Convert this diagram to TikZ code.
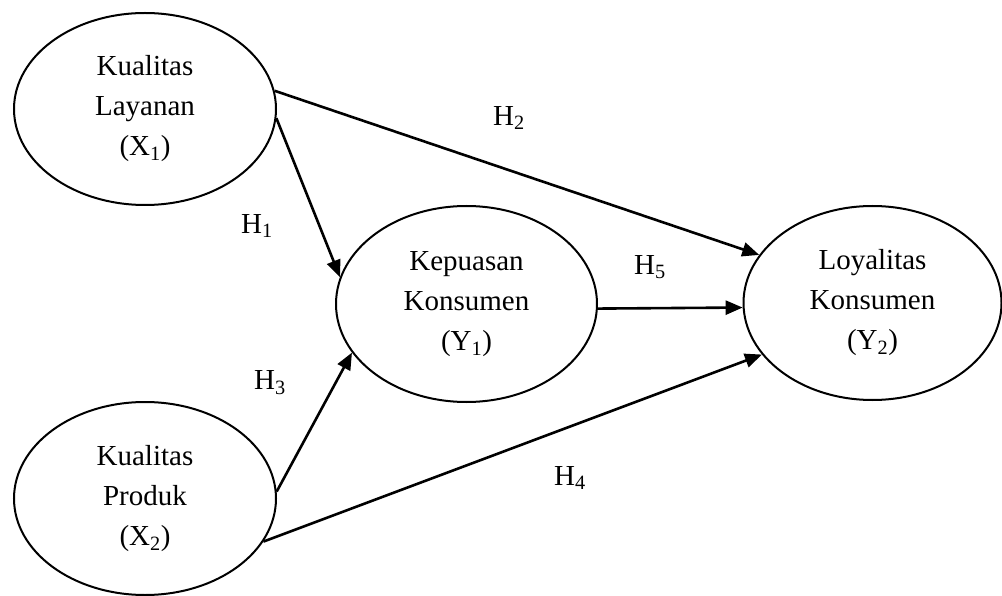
\documentclass[tikz,border=0pt]{standalone}
\usepackage{fontspec}
\setmainfont{Liberation Serif}
\usetikzlibrary{shapes.geometric,arrows.meta}
\tikzset{
  var/.style={ellipse, draw, line width=2pt, inner sep=0pt, align=center,
    font=\fontsize{29}{40}\selectfont},
  link/.style={line width=2.6pt, -{Triangle[length=17pt,width=14pt]}},
  hyp/.style={font=\fontsize{29}{34}\selectfont, inner sep=0pt}
}
\begin{document}
\begin{tikzpicture}[x=1pt,y=-1pt]
\useasboundingbox (0,0) rectangle (1002,596);
\node[var, minimum width=262pt, minimum height=192pt] (X1) at (145,109) {Kualitas\\Layanan\\(X\textsubscript{1})};
\node[var, minimum width=262pt, minimum height=193pt] (X2) at (145,498.5) {Kualitas\\Produk\\(X\textsubscript{2})};
\node[var, minimum width=261pt, minimum height=196pt] (Y1) at (466.5,304) {Kepuasan\\Konsumen\\(Y\textsubscript{1})};
\node[var, minimum width=258pt, minimum height=194pt] (Y2) at (872.5,303) {Loyalitas\\Konsumen\\(Y\textsubscript{2})};
\draw[link] (X1.8.7) -- (Y2.157.3);
\draw[link] (X1.-4) -- (Y1.168.2);
\draw[link] (X2.3.7) -- (Y1.203.1);
\draw[link] (X2.-20.8) -- (Y2.205.4);
\draw[link] (Y1.-2) -- (Y2.182.7);
\node[hyp] (h1) at (257,226) {H\textsubscript{1}};
\node[hyp] (h2) at (509,118) {H\textsubscript{2}};
\node[hyp] (h3) at (270,383) {H\textsubscript{3}};
\node[hyp] (h4) at (570,478) {H\textsubscript{4}};
\node[hyp] (h5) at (650,267) {H\textsubscript{5}};
\end{tikzpicture}
\end{document}
